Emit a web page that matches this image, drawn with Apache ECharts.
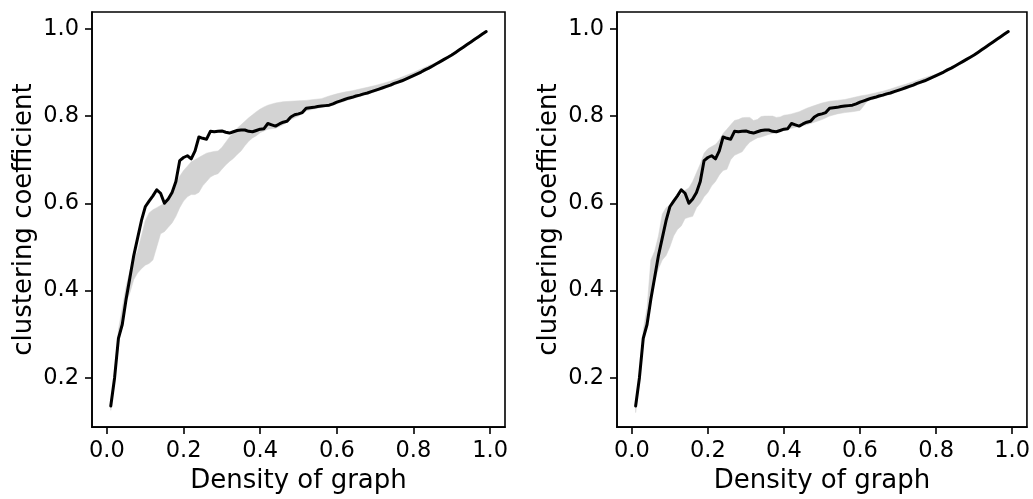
<!DOCTYPE html>
<html>
<head>
<meta charset="utf-8">
<script src="https://cdn.jsdelivr.net/npm/echarts@6/dist/echarts.min.js"></script>
<style>
html,body{margin:0;padding:0;background:#fff;}
#chart{width:1033px;height:499px;}
</style>
</head>
<body>
<div id="chart"></div>
<script>
// Black curve: density of graph vs clustering coefficient (same in both panels)
const lineX = [0.01,0.02,0.03,0.04,0.05,0.06,0.07,0.08,0.09,0.10,0.11,0.12,0.13,0.14,0.15,0.16,0.17,0.18,0.19,0.20,
0.21,0.22,0.23,0.24,0.25,0.26,0.27,0.28,0.29,0.30,0.31,0.32,0.33,0.34,0.35,0.36,0.37,0.38,0.39,0.40,
0.41,0.42,0.43,0.44,0.45,0.46,0.47,0.48,0.49,0.50,0.51,0.52,0.53,0.54,0.55,0.56,0.57,0.58,0.59,0.60,
0.61,0.62,0.63,0.64,0.65,0.66,0.67,0.68,0.69,0.70,0.71,0.72,0.73,0.74,0.75,0.76,0.77,0.78,0.79,0.80,
0.81,0.82,0.83,0.84,0.85,0.86,0.87,0.88,0.89,0.90,0.91,0.92,0.93,0.94,0.95,0.96,0.97,0.98,0.99];
const lineY = [0.135,0.20,0.29,0.322,0.38,0.43,0.48,0.52,0.56,0.592,0.605,0.617,0.631,0.623,0.60,0.61,0.625,0.65,0.698,0.705,
0.709,0.702,0.72,0.752,0.749,0.747,0.765,0.764,0.765,0.766,0.763,0.761,0.764,0.767,0.768,0.768,0.765,0.764,0.767,0.770,
0.771,0.783,0.780,0.777,0.782,0.786,0.788,0.798,0.803,0.805,0.808,0.818,0.819,0.820,0.822,0.823,0.824,0.825,0.828,0.832,
0.835,0.838,0.841,0.843,0.846,0.848,0.851,0.853,0.856,0.859,0.862,0.865,0.868,0.871,0.875,0.878,0.881,0.885,0.889,0.893,
0.897,0.901,0.906,0.910,0.915,0.920,0.925,0.930,0.935,0.940,0.946,0.952,0.958,0.964,0.970,0.976,0.982,0.988,0.994];

// Grey bands
const bandX = [0.01,0.02,0.03,0.04,0.05,0.06,0.07,0.08,0.09,0.10,0.11,0.12,0.13,0.14,0.15,0.16,0.17,0.18,0.19,0.20,
0.21,0.22,0.23,0.24,0.25,0.26,0.27,0.28,0.29,0.30,0.31,0.32,0.33,0.34,0.35,0.36,0.37,0.38,0.39,0.40,0.41,0.42,
0.44,0.46,0.48,0.50,0.52,0.54,0.56,0.58,0.60,0.62,0.64,0.66,0.68,0.70,0.72,0.74,0.76,0.78,0.80,
0.82,0.84,0.86,0.88,0.90,0.92,0.94,0.96,0.98,0.99];
const leftLower = [0.125,0.19,0.28,0.32,0.375,0.395,0.425,0.44,0.45,0.458,0.462,0.47,0.50,0.53,0.535,0.545,0.555,0.57,0.59,0.605,
0.615,0.62,0.62,0.625,0.64,0.65,0.66,0.665,0.668,0.678,0.688,0.696,0.703,0.712,0.72,0.732,0.742,0.75,0.755,0.762,0.766,0.77,
0.772,0.78,0.792,0.80,0.812,0.816,0.82,0.822,0.828,0.834,0.84,0.845,0.85,0.856,0.862,0.868,0.875,0.883,0.89,
0.898,0.907,0.917,0.927,0.937,0.949,0.961,0.973,0.985,0.991];
const leftUpper = [0.14,0.21,0.31,0.36,0.41,0.445,0.47,0.49,0.525,0.56,0.578,0.585,0.59,0.595,0.60,0.608,0.62,0.645,0.662,0.675,
0.685,0.695,0.70,0.705,0.71,0.715,0.717,0.719,0.72,0.728,0.74,0.752,0.762,0.772,0.78,0.788,0.796,0.803,0.81,0.816,0.821,0.825,
0.83,0.833,0.834,0.835,0.836,0.838,0.840,0.846,0.851,0.855,0.858,0.862,0.866,0.870,0.875,0.880,0.886,0.893,0.90,
0.908,0.916,0.923,0.932,0.942,0.954,0.966,0.978,0.990,0.996];
const rightLower = [0.12,0.19,0.28,0.32,0.385,0.42,0.45,0.47,0.48,0.50,0.525,0.54,0.548,0.565,0.568,0.570,0.59,0.60,0.615,0.625,
0.64,0.65,0.665,0.675,0.678,0.70,0.71,0.714,0.718,0.73,0.74,0.745,0.75,0.752,0.755,0.758,0.76,0.762,0.764,0.767,0.77,0.772,
0.776,0.780,0.786,0.792,0.80,0.805,0.808,0.81,0.813,0.835,0.840,0.845,0.85,0.856,0.862,0.868,0.875,0.883,0.89,
0.898,0.907,0.917,0.927,0.937,0.949,0.961,0.973,0.985,0.991];
const rightUpper = [0.14,0.21,0.31,0.36,0.47,0.49,0.525,0.575,0.59,0.595,0.605,0.61,0.62,0.63,0.635,0.65,0.67,0.69,0.715,0.725,
0.73,0.735,0.745,0.76,0.77,0.78,0.79,0.792,0.796,0.797,0.797,0.79,0.792,0.799,0.80,0.80,0.80,0.797,0.798,0.802,0.803,0.805,
0.81,0.818,0.824,0.83,0.834,0.836,0.838,0.842,0.846,0.849,0.853,0.857,0.862,0.868,0.873,0.879,0.885,0.891,0.896,
0.904,0.913,0.922,0.932,0.942,0.954,0.966,0.978,0.990,0.996];

const xTicks = [0.0,0.2,0.4,0.6,0.8,1.0];
const yTicks = [0.2,0.4,0.6,0.8,1.0];
const xTitle = 'Density of graph';
const yTitle = 'clustering coefficient';

const FONT = 'DejaVu Sans';
const chart = echarts.init(document.getElementById('chart'), null, {renderer:'canvas'});

function bandSeries(idx, lower, upper){
  const rows = bandX.map((x,i)=>[x, lower[i], upper[i]]);
  return {
    type:'custom', xAxisIndex:idx, yAxisIndex:idx, silent:true, z:1,
    data: rows,
    encode:{x:0, y:[1,2]},
    renderItem: function(params, api){
      if (params.dataIndex !== 0) return null;
      const pts = [];
      for (let i=0;i<rows.length;i++) pts.push(api.coord([rows[i][0], rows[i][2]]));
      for (let i=rows.length-1;i>=0;i--) pts.push(api.coord([rows[i][0], rows[i][1]]));
      return {type:'polygon', shape:{points:pts}, style:{fill:'#d3d3d3', stroke:'#d3d3d3', lineWidth:0.5}};
    }
  };
}
function lineSeries(idx){
  return {
    type:'line', xAxisIndex:idx, yAxisIndex:idx, z:3, silent:true,
    data: lineX.map((x,i)=>[x, lineY[i]]),
    showSymbol:false, symbol:'none',
    lineStyle:{color:'#000', width:3, join:'round', cap:'round'},
    animation:false
  };
}
function xAxis(idx){
  return {
    type:'value', gridIndex:idx, min:-0.039, max:1.039,
    name:xTitle, nameLocation:'middle', nameGap:38,
    nameTextStyle:{fontFamily:FONT, fontSize:26, color:'#000'},
    axisLine:{show:true, onZero:false, lineStyle:{color:'#000', width:1.6}},
    splitLine:{show:false},
    axisTick:{show:true, inside:false, length:7, customValues:xTicks, lineStyle:{color:'#000', width:1.6}},
    axisLabel:{show:true, customValues:xTicks, margin:13, fontFamily:FONT, fontSize:22.5, color:'#000',
      formatter:v=>v.toFixed(1)}
  };
}
function yAxis(idx){
  return {
    type:'value', gridIndex:idx, min:0.0867, max:1.0387,
    name:yTitle, nameLocation:'middle', nameGap:55, nameRotate:90,
    nameTextStyle:{fontFamily:FONT, fontSize:26, color:'#000'},
    axisLine:{show:true, onZero:false, lineStyle:{color:'#000', width:1.6}},
    splitLine:{show:false},
    axisTick:{show:true, inside:false, length:7, customValues:yTicks, lineStyle:{color:'#000', width:1.6}},
    axisLabel:{show:true, customValues:yTicks, margin:13, fontFamily:FONT, fontSize:22.5, color:'#000',
      formatter:v=>v.toFixed(1)}
  };
}

chart.setOption({
  animation:false,
  backgroundColor:'#fff',
  grid:[
    {left:92, top:12, width:413, height:419, show:true, borderColor:'#000', borderWidth:1.6, backgroundColor:'transparent', containLabel:false},
    {left:617, top:12, width:413, height:419, show:true, borderColor:'#000', borderWidth:1.6, backgroundColor:'transparent', containLabel:false}
  ],
  xAxis:[xAxis(0), xAxis(1)],
  yAxis:[yAxis(0), yAxis(1)],
  series:[
    bandSeries(0, leftLower, leftUpper),
    lineSeries(0),
    bandSeries(1, rightLower, rightUpper),
    lineSeries(1)
  ]
});
</script>
</body>
</html>
